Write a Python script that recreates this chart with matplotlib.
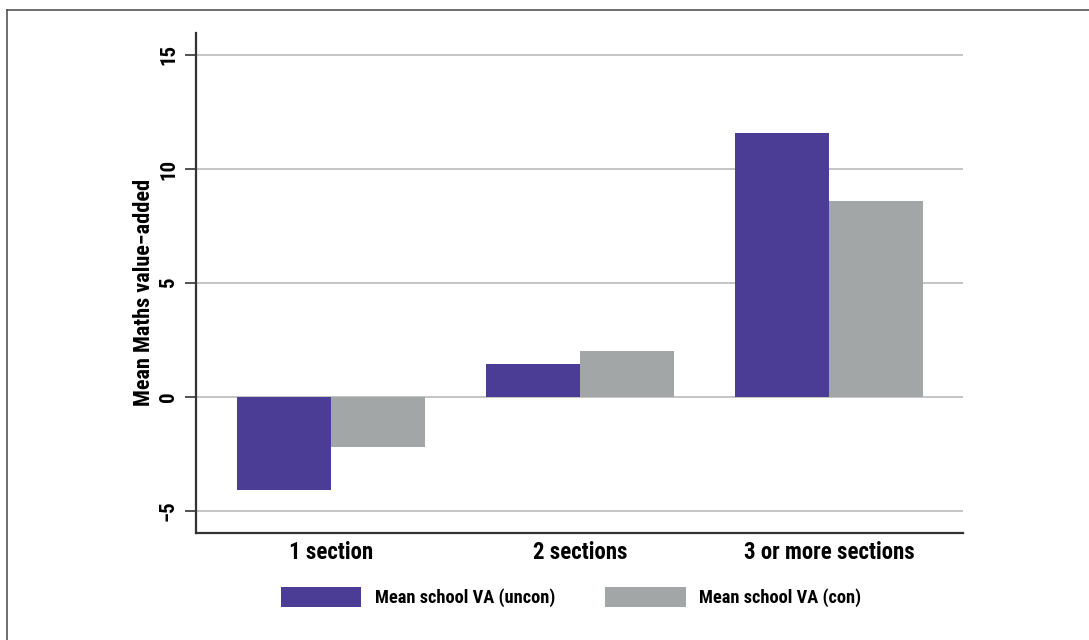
import matplotlib
matplotlib.use("Agg")
import matplotlib.pyplot as plt
import numpy as np
from matplotlib.lines import Line2D

categories = ["1 section", "2 sections", "3 or more sections"]
uncon = [-4.08, 1.45, 11.58]
con = [-2.19, 2.02, 8.6]
series_labels = ["Mean school VA (uncon)", "Mean school VA (con)"]
yticks = [-5, 0, 5, 10, 15]
ytick_labels = ["\u22125", "0", "5", "10", "15"]

purple = "#4b3c96"
gray = "#a3a6a6"

plt.rcParams['font.family'] = ['Roboto Condensed', 'DejaVu Sans']
plt.rcParams['font.weight'] = 'bold'

fig = plt.figure(figsize=(10.89, 6.4), dpi=100)
ax = fig.add_axes([196/1089, 1-533/640, (963-196)/1089, (533-33)/640])

x = np.arange(1, len(categories)+1)
w = 0.377
b1 = ax.bar(x - w/2, uncon, w, color=purple, label=series_labels[0], zorder=3)
b2 = ax.bar(x + w/2, con, w, color=gray, label=series_labels[1], zorder=3)

ax.set_xlim(0.458, 3.538)
ax.set_ylim(-5.96, 15.96)
ax.set_yticks(yticks)
ax.set_yticklabels(ytick_labels, rotation=90, va='center', fontsize=15, fontweight='bold')
ax.set_xticks(x)
ax.set_xticklabels(categories, fontsize=16.5, fontweight='bold')
ax.tick_params(axis='x', length=0, pad=6)
ax.tick_params(axis='y', length=8, width=1.2, color='#333333', pad=5)
ax.set_ylabel("Mean Maths value\u2212added", fontsize=16, fontweight='bold')
ax.yaxis.set_label_coords(-0.053, (533-292)/500)
ax.yaxis.grid(True, color='#b4b4b4', linewidth=1.1, zorder=0)
ax.set_axisbelow(True)
for s in ['top', 'right']:
    ax.spines[s].set_visible(False)
for s in ['left', 'bottom']:
    ax.spines[s].set_color('#333333')
    ax.spines[s].set_linewidth(1.6)

leg = fig.legend(handles=[b1, b2], labels=series_labels, loc='center',
                 bbox_to_anchor=((276+866)/2/1089, 1-597/640), ncol=2, frameon=False,
                 prop={'weight': 'bold', 'size': 13.2},
                 handlelength=4.4, handleheight=1.3, handletextpad=0.75,
                 columnspacing=2.7, borderpad=0, borderaxespad=0)

# figure frame (left and top edges visible)
fig.add_artist(Line2D([7/1089, 7/1089], [0, 1-10/640], transform=fig.transFigure, color='#555555', linewidth=1.2))
fig.add_artist(Line2D([7/1089, 1], [1-10/640, 1-10/640], transform=fig.transFigure, color='#555555', linewidth=1.2))

fig.savefig("out.png", dpi=100)
